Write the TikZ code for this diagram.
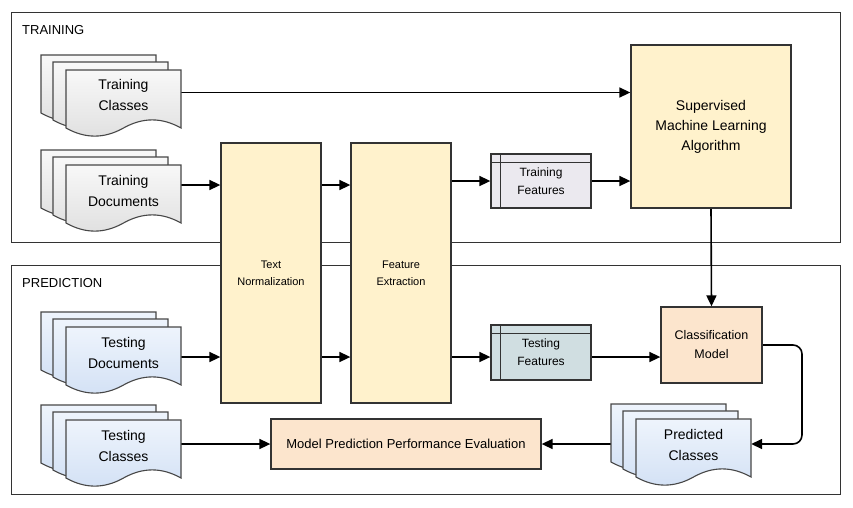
\documentclass[tikz,border=0pt]{standalone}
\usepackage{fontspec}
\setmainfont{Liberation Sans}
\usetikzlibrary{arrows.meta,backgrounds}
\definecolor{frm}{HTML}{333333}
\definecolor{yel}{HTML}{FFF2CC}
\definecolor{peach}{HTML}{FCE5CD}
\definecolor{trf}{HTML}{EBE9EF}
\definecolor{tsf}{HTML}{D0DEE1}
\definecolor{grtop}{HTML}{F8F8F8}
\definecolor{grbot}{HTML}{E0E0E0}
\definecolor{bltop}{HTML}{EEF4FC}
\definecolor{blbot}{HTML}{D3E1F5}
\newcommand\mydocpage[3]{%
  \begin{scope}[shift={(#1,#2)}]
    \path[docshape,#3] (0,0) -- (115,0) -- (115,58)
      .. controls (95.83,47.2) and (76.67,47.2) .. (57.5,58)
      .. controls (38.33,68.8) and (19.17,68.8) .. (0,58) -- cycle;
  \end{scope}}
\newcommand\mydocstack[3]{%
  \mydocpage{#1}{#2}{#3}%
  \mydocpage{#1+12}{#2+7}{#3}%
  \mydocpage{#1+25}{#2+15}{#3}}
\begin{document}
\begin{tikzpicture}[x=1pt,y=-1pt,
  framebox/.style={draw=frm, line width=1.3pt, rectangle, inner sep=0pt},
  lbl/.style={anchor=west, inner sep=0pt, font=\fontsize{13}{15}\selectfont},
  docshape/.style={draw=frm!90, line width=1.1pt},
  grayfill/.style={top color=grtop, bottom color=grbot},
  bluefill/.style={top color=bltop, bottom color=blbot},
  doctext/.style={minimum width=115pt, minimum height=46pt, inner sep=0pt, align=center, font=\fontsize{14}{21}\selectfont},
  proc/.style={draw=frm, line width=1.3pt, rectangle, inner sep=0pt, align=center},
  arr/.style={draw=black, line width=1.6pt, -{Triangle[length=11pt,width=10pt]}},
]
\useasboundingbox (0,0) rectangle (853,507);

\begin{pgfonlayer}{background}
\fill[white] (0,0) rectangle (853,507);
\node[framebox, minimum width=829pt, minimum height=230pt, anchor=north west] (trainfr) at (11,12) {};
\node[framebox, minimum width=829pt, minimum height=229pt, anchor=north west] (predfr) at (11,265) {};
\end{pgfonlayer}
\node[lbl] (trainlbl) at (22,30) {TRAINING};
\node[lbl] (predlbl) at (22,283) {PREDICTION};

% document stacks
\mydocstack{41}{55}{grayfill}
\mydocstack{41}{150}{grayfill}
\mydocstack{41}{312}{bluefill}
\mydocstack{41}{405}{bluefill}
\mydocstack{611}{404}{bluefill}

\node[doctext] (trcls) at (123.5,94.5) {Training\\Classes};
\node[doctext] (trdoc) at (123.5,191) {Training\\Documents};
\node[doctext] (tsdoc) at (123.5,353) {Testing\\Documents};
\node[doctext] (tscls) at (123.5,446) {Testing\\Classes};
\node[doctext] (pc) at (693.5,445) {Predicted\\Classes};

% process boxes
\node[proc, fill=yel, minimum width=100pt, minimum height=260pt, font=\fontsize{11}{17}\selectfont] (tn) at (271,273) {Text\\Normalization};
\node[proc, fill=yel, minimum width=100pt, minimum height=260pt, font=\fontsize{11}{17}\selectfont] (fe) at (401,273) {Feature\\Extraction};
\node[proc, fill=trf, minimum width=100pt, minimum height=54pt, font=\fontsize{12}{18}\selectfont] (trfeat) at (541,181) {Training\\Features};
\node[proc, fill=tsf, minimum width=100pt, minimum height=55pt, font=\fontsize{12}{18}\selectfont] (tsfeat) at (541,352.5) {Testing\\Features};
\node[proc, fill=yel, minimum width=160pt, minimum height=163pt, font=\fontsize{14}{20}\selectfont] (sml) at (711,126.5) {Supervised\\Machine Learning\\Algorithm};
\node[proc, fill=peach, minimum width=101pt, minimum height=76pt, font=\fontsize{12.5}{19}\selectfont] (cm) at (711.5,345) {Classification\\Model};
\node[proc, fill=peach, minimum width=270pt, minimum height=50pt, font=\fontsize{13}{15}\selectfont] (eval) at (406,444) {Model Prediction Performance Evaluation};

% inner lines of feature boxes
\foreach \b in {trfeat,tsfeat}{
  \draw[frm, line width=1.3pt] ([xshift=10pt]\b.north west) -- ([xshift=10pt]\b.south west);
  \draw[frm, line width=1.3pt] ([yshift=-9pt]\b.north west) -- ([yshift=-9pt]\b.north east);
}

\coordinate (r1) at (0,185);
\coordinate (r2) at (0,357);
\coordinate (bend) at (802,444);

\begin{pgfonlayer}{background}
\draw[arr] (trcls.east |- 0,92.5) -- (sml.west |- 0,92.5);
\draw[arr] (trdoc.east |- r1) -- (tn.west |- r1);
\draw[arr] (tn.east |- r1) -- (fe.west |- r1);
\draw[arr] (fe.east |- trfeat.west) -- (trfeat.west);
\draw[arr] (trfeat.east) -- (sml.west |- trfeat.east);
\draw[arr] (tsdoc.east |- r2) -- (tn.west |- r2);
\draw[arr] (tn.east |- r2) -- (fe.west |- r2);
\draw[arr] (fe.east |- r2) -- (tsfeat.west |- r2);
\draw[arr] (tsfeat.east |- r2) -- (cm.west |- r2);
\draw[arr] (sml.south) -- (cm.north);
\draw[arr, rounded corners=9pt] (cm.east) -| (bend) -- (pc.east |- bend);
\draw[arr] (tscls.east |- eval.west) -- (eval.west);
\draw[arr] (pc.west |- eval.east) -- (eval.east);
\end{pgfonlayer}
\end{tikzpicture}
\end{document}
